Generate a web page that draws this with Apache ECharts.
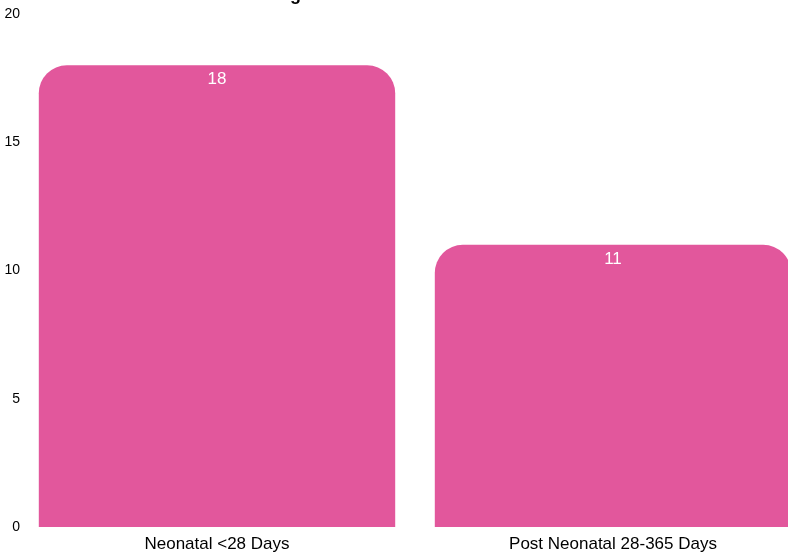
<!DOCTYPE html>
<html>
<head>
<meta charset="utf-8">
<script src="https://cdn.jsdelivr.net/npm/echarts@6/dist/echarts.min.js"></script>
<style>html,body{margin:0;padding:0;background:#fff}#c{width:788px;height:554px}</style>
</head>
<body>
<div id="c"></div>
<script>
const categories = ["Neonatal <28 Days", "Post Neonatal 28-365 Days"];
const values = [18, 11];
const yTicks = [0, 5, 10, 15, 20];
const titleText = "Infant Deaths at Age";

const chart = echarts.init(document.getElementById('c'), null, {renderer: 'canvas'});
chart.setOption({
  animation: false,
  backgroundColor: '#fff',
  title: {
    text: titleText,
    left: 132,
    top: -19,
    textStyle: {fontFamily: 'Liberation Sans, Arial, sans-serif', fontWeight: 'bold', fontSize: 18, color: '#000'}
  },
  grid: {left: 19, width: 792, top: 14, bottom: 27, containLabel: false, outerBoundsMode: 'none'},
  xAxis: {
    type: 'category',
    data: categories,
    axisLine: {show: false},
    axisTick: {show: false},
    axisLabel: {color: '#000', fontSize: 17, fontFamily: 'Liberation Sans, Arial, sans-serif', margin: 9}
  },
  yAxis: {
    type: 'value',
    min: yTicks[0],
    max: yTicks[yTicks.length - 1],
    interval: yTicks[1] - yTicks[0],
    splitLine: {show: false},
    axisLine: {show: false},
    axisTick: {show: false},
    axisLabel: {color: '#000', fontSize: 14, fontFamily: 'Liberation Sans, Arial, sans-serif', margin: -1}
  },
  series: [{
    type: 'bar',
    data: values,
    barCategoryGap: '10%',
    itemStyle: {color: '#E2579C', borderRadius: [28, 28, 0, 0]},
    label: {
      show: true,
      position: 'insideTop',
      distance: 6,
      color: '#fff',
      fontSize: 17,
      fontFamily: 'Liberation Sans, Arial, sans-serif'
    }
  }]
});
</script>
</body>
</html>
